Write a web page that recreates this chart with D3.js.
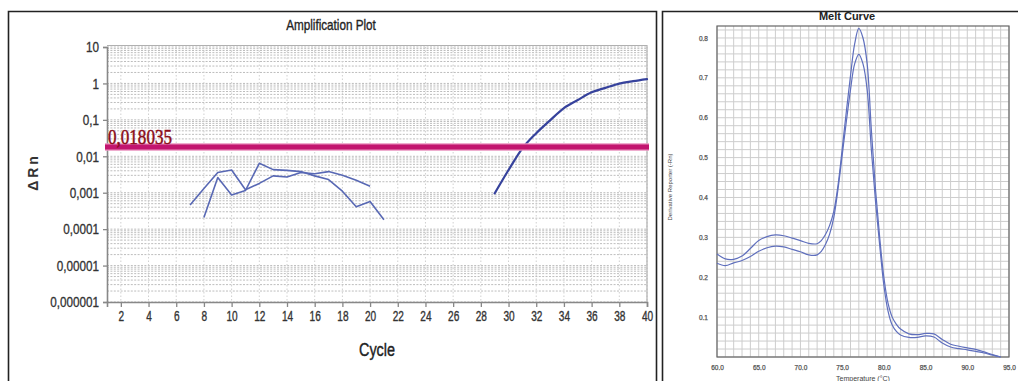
<!DOCTYPE html>
<html>
<head>
<meta charset="utf-8">
<script src="https://cdn.jsdelivr.net/npm/d3@7"></script>
<style>
  html, body { margin: 0; padding: 0; background: #fff; }
  svg { display: block; }
</style>
</head>
<body>
<svg id="chart" width="1018" height="381"></svg>
<script>
// ---------- Amplification plot data ----------
const cycleTicks = [2, 4, 6, 8, 10, 12, 14, 16, 18, 20, 22, 24, 26, 28, 30, 32, 34, 36, 38, 40];
const rnTicks = [10, 1, 0.1, 0.01, 0.001, 0.0001, 0.00001, 0.000001];
const rnTickLabels = ["10", "1", "0,1", "0,01", "0,001", "0,0001", "0,00001", "0,000001"];
const threshold = 0.018035;
const thresholdLabel = "0,018035";

const noiseCyclesA = [7, 8, 9, 10, 11, 12, 13, 14, 15, 16, 17, 18, 19, 20];
const noiseValuesA = [0.00046, 0.0013, 0.0036, 0.0042, 0.0012, 0.0018, 0.0029, 0.0027, 0.0036, 0.0033, 0.0038, 0.0030, 0.0022, 0.0015];

const noiseCyclesB = [8, 9, 10, 11, 12, 13, 14, 15, 16, 17, 18, 19, 20, 21];
const noiseValuesB = [0.00021, 0.0026, 0.00087, 0.00115, 0.0064, 0.0043, 0.0041, 0.0038, 0.0029, 0.0023, 0.0011, 0.00041, 0.00057, 0.00018];

const ampCycles = [29, 30, 31, 32, 33, 34, 35, 36, 37, 38, 39, 40];
const ampValues = [0.00096, 0.0042, 0.0165, 0.043, 0.097, 0.21, 0.35, 0.57, 0.755, 0.99, 1.16, 1.32];

// ---------- Melt curve data ----------
const meltTemps = [60, 61, 62, 63, 64, 65, 66, 67, 68, 69, 70, 71, 72, 72.5, 73, 73.5, 74, 74.5, 75, 75.5, 76, 76.5, 77,
                   77.5, 78, 78.5, 79, 79.5, 80, 80.5, 81, 81.5, 82, 83, 84, 85, 86, 87, 88, 89, 90, 91, 92, 93, 94];
const meltHigh = [0.258, 0.246, 0.245, 0.253, 0.272, 0.292, 0.302, 0.306, 0.304, 0.298, 0.292, 0.285, 0.284, 0.292, 0.307, 0.330, 0.365, 0.430, 0.520, 0.615, 0.705, 0.785, 0.824,
                  0.800, 0.735, 0.570, 0.420, 0.300, 0.200, 0.135, 0.100, 0.082, 0.070, 0.058, 0.056, 0.059, 0.058, 0.044, 0.032, 0.027, 0.023, 0.019, 0.013, 0.006, 0.0];
const meltLow = [0.235, 0.229, 0.236, 0.242, 0.252, 0.265, 0.274, 0.278, 0.276, 0.270, 0.264, 0.256, 0.256, 0.265, 0.282, 0.308, 0.350, 0.420, 0.505, 0.590, 0.670, 0.735, 0.759,
                 0.735, 0.670, 0.520, 0.390, 0.280, 0.180, 0.115, 0.080, 0.064, 0.055, 0.049, 0.049, 0.053, 0.050, 0.035, 0.025, 0.021, 0.018, 0.014, 0.010, 0.005, 0.0];
const meltTempTicks = [60, 65, 70, 75, 80, 85, 90, 95];
const meltDerivTicks = [0.1, 0.2, 0.3, 0.4, 0.5, 0.6, 0.7, 0.8];

const svg = d3.select("#chart");
svg.append("rect").attr("width", 1018).attr("height", 381).attr("fill", "#fff");

const sans = "'Liberation Sans', Arial, sans-serif";

// squeeze text horizontally to a condensed look, keeping its anchor
function condense(sel, factor) {
  sel.each(function () {
    const len = this.getComputedTextLength();
    d3.select(this).attr("textLength", len * factor).attr("lengthAdjust", "spacingAndGlyphs");
  });
}
// give thin text a little more weight
function heavier(sel, color, w) {
  sel.attr("stroke", color).attr("stroke-width", w).attr("paint-order", "stroke");
}

// ================= Amplification plot =================
const amp = svg.append("g");

// panel frame
amp.append("path")
  .attr("d", "M8.5,381 V11.5 H656.5 V381")
  .attr("fill", "none").attr("stroke", "#222").attr("stroke-width", 1.6);

const x = d3.scaleLinear().domain([1, 40]).range([107, 647]);
const y = d3.scaleLog().domain([0.000001, 10]).range([302, 47]);

// horizontal minor grid (k * 10^n)
const minorRn = [];
for (let e = -6; e <= 0; e++) {
  for (let k = 1; k <= 9; k++) minorRn.push(k * Math.pow(10, e));
}
minorRn.push(10);
amp.append("g").selectAll("line").data(minorRn).join("line")
  .attr("x1", x(1)).attr("x2", x(40))
  .attr("y1", d => y(d)).attr("y2", d => y(d))
  .attr("stroke", "#bdbdbd").attr("stroke-width", 1)
  .attr("stroke-dasharray", "2,1.4");

// vertical grid at even cycles
amp.append("g").selectAll("line").data(cycleTicks).join("line")
  .attr("x1", d => x(d)).attr("x2", d => x(d))
  .attr("y1", y(10)).attr("y2", y(0.000001))
  .attr("stroke", "#d0d0d0").attr("stroke-width", 1)
  .attr("stroke-dasharray", "1.5,2");

// plot area top/right edges
amp.append("path")
  .attr("d", `M${x(1)},${y(10) - 1.5} H${x(40)} V${y(0.000001)}`)
  .attr("fill", "none").attr("stroke", "#b0b0b0").attr("stroke-width", 1.2);

// axes
const xAxis = d3.axisBottom(x).tickValues(cycleTicks).tickSize(5).tickPadding(4).tickFormat(d3.format("d"));
const gx = amp.append("g").attr("transform", `translate(0,${y(0.000001)})`).call(xAxis);
gx.select(".domain").attr("stroke", "#888").attr("stroke-width", 1.6);
gx.selectAll(".tick line").attr("stroke", "#888").attr("stroke-width", 1.3);
gx.selectAll(".tick text").attr("fill", "#333").style("font-family", sans).style("font-size", "14px");
heavier(gx.selectAll(".tick text"), "#333", 0.35);
condense(gx.selectAll(".tick text"), 0.72);

const yAxis = d3.axisLeft(y).tickValues(rnTicks).tickSize(4).tickPadding(4)
  .tickFormat((d, i) => rnTickLabels[i]);
const gy = amp.append("g").attr("transform", `translate(${x(1)},0)`).call(yAxis);
gy.select(".domain").attr("stroke", "#888").attr("stroke-width", 1.6);
gy.selectAll(".tick line").attr("stroke", "#888").attr("stroke-width", 1.3);
gy.selectAll(".tick text").attr("fill", "#333").style("font-family", sans).style("font-size", "15px");
heavier(gy.selectAll(".tick text"), "#333", 0.35);
condense(gy.selectAll(".tick text"), 0.78);

// title and axis labels
const title = amp.append("text").attr("x", 331).attr("y", 30).attr("text-anchor", "middle")
  .style("font-family", sans).style("font-size", "15px").attr("fill", "#222")
  .text("Amplification Plot");
heavier(title, "#222", 0.35);
condense(title, 0.78);
const xLabel = amp.append("text").attr("x", 377).attr("y", 356).attr("text-anchor", "middle")
  .style("font-family", sans).style("font-size", "18px").attr("fill", "#222")
  .text("Cycle");
heavier(xLabel, "#222", 0.4);
condense(xLabel, 0.8);
amp.append("text")
  .attr("transform", "translate(38,172) rotate(-90)")
  .attr("text-anchor", "middle")
  .style("font-family", sans).style("font-size", "14px").style("font-weight", "bold")
  .style("letter-spacing", "3px").attr("fill", "#333")
  .text("ΔRn");

// data lines
const line = d3.line().x(d => x(d[0])).y(d => y(d[1]));
const seriesA = noiseCyclesA.map((c, i) => [c, noiseValuesA[i]]);
const seriesB = noiseCyclesB.map((c, i) => [c, noiseValuesB[i]]);
const seriesAmp = ampCycles.map((c, i) => [c, ampValues[i]]);

[seriesA, seriesB].forEach(s => {
  amp.append("path").datum(s).attr("d", line)
    .attr("fill", "none").attr("stroke", "#5868b4").attr("stroke-width", 1.6)
    .attr("stroke-linejoin", "round");
});
amp.append("path").datum(seriesAmp).attr("d", line.curve(d3.curveMonotoneX))
  .attr("fill", "none").attr("stroke", "#36429c").attr("stroke-width", 2.2)
  .attr("stroke-linecap", "round");

// threshold
amp.append("line").attr("x1", x(1) - 2).attr("x2", x(40) + 2)
  .attr("y1", y(threshold)).attr("y2", y(threshold))
  .attr("stroke", "#ea92bf").attr("stroke-width", 7.5);
amp.append("line").attr("x1", x(1) - 2).attr("x2", x(40) + 2)
  .attr("y1", y(threshold)).attr("y2", y(threshold))
  .attr("stroke", "#c2156f").attr("stroke-width", 5);
const thrText = amp.append("text").attr("x", x(1) + 1).attr("y", y(threshold) - 3)
  .style("font-family", "'Liberation Serif', 'Times New Roman', serif").style("font-size", "20px")
  .attr("fill", "#8a0c18").attr("textLength", 64).attr("lengthAdjust", "spacingAndGlyphs")
  .text(thresholdLabel);
heavier(thrText, "#8a0c18", 0.5);

// ================= Melt curve =================
const melt = svg.append("g");
melt.append("path")
  .attr("d", "M662.5,381 V11.5 H1018")
  .attr("fill", "none").attr("stroke", "#222").attr("stroke-width", 1.6);

const mx = d3.scaleLinear().domain([60, 95]).range([717, 1009]);
const my = d3.scaleLinear().domain([0, 0.83]).range([357, 26]);

const tempGrid = d3.range(60, 96, 1);
const derivGrid = d3.range(0, 0.83, 0.02);
melt.append("g").selectAll("line").data(tempGrid).join("line")
  .attr("x1", d => mx(d)).attr("x2", d => mx(d))
  .attr("y1", my(0.83)).attr("y2", my(0))
  .attr("stroke", "#cdcdcd").attr("stroke-width", 1);
melt.append("g").selectAll("line").data(derivGrid).join("line")
  .attr("x1", mx(60)).attr("x2", mx(95))
  .attr("y1", d => my(d)).attr("y2", d => my(d))
  .attr("stroke", "#cdcdcd").attr("stroke-width", 1);

melt.append("rect").attr("x", mx(60)).attr("y", my(0.83))
  .attr("width", mx(95) - mx(60)).attr("height", my(0) - my(0.83))
  .attr("fill", "none").attr("stroke", "#666").attr("stroke-width", 1.2);

const mxAxis = d3.axisBottom(mx).tickValues(meltTempTicks).tickSize(0).tickPadding(8).tickFormat(d3.format(".1f"));
const gmx = melt.append("g").attr("transform", `translate(0,${my(0)})`).call(mxAxis);
gmx.select(".domain").remove();
gmx.selectAll(".tick text").attr("fill", "#555").style("font-family", sans).style("font-size", "6.5px");
heavier(gmx.selectAll(".tick text"), "#555", 0.25);

const myAxis = d3.axisLeft(my).tickValues(meltDerivTicks).tickSize(0).tickPadding(9).tickFormat(d3.format(".1f"));
const gmy = melt.append("g").attr("transform", `translate(${mx(60)},0)`).call(myAxis);
gmy.select(".domain").remove();
gmy.selectAll(".tick text").attr("fill", "#555").style("font-family", sans).style("font-size", "6.5px");
heavier(gmy.selectAll(".tick text"), "#555", 0.25);

melt.append("text").attr("x", 847).attr("y", 20).attr("text-anchor", "middle")
  .style("font-family", sans).style("font-size", "11px").style("font-weight", "bold").attr("fill", "#222")
  .text("Melt Curve");
melt.append("text").attr("x", 863).attr("y", 381).attr("text-anchor", "middle")
  .style("font-family", sans).style("font-size", "7px").attr("fill", "#444")
  .text("Temperature (°C)");
melt.append("text").attr("transform", "translate(672,187) rotate(-90)").attr("text-anchor", "middle")
  .style("font-family", sans).style("font-size", "6px").attr("fill", "#444")
  .text("Derivative Reporter (-Rn)");

const mline = d3.line().x(d => mx(d[0])).y(d => my(d[1])).curve(d3.curveCatmullRom.alpha(0.5));
[meltHigh, meltLow].forEach(vals => {
  melt.append("path").datum(meltTemps.map((t, i) => [t, vals[i]])).attr("d", mline)
    .attr("fill", "none").attr("stroke", "#5f6fbd").attr("stroke-width", 1.2);
});
</script>
</body>
</html>
